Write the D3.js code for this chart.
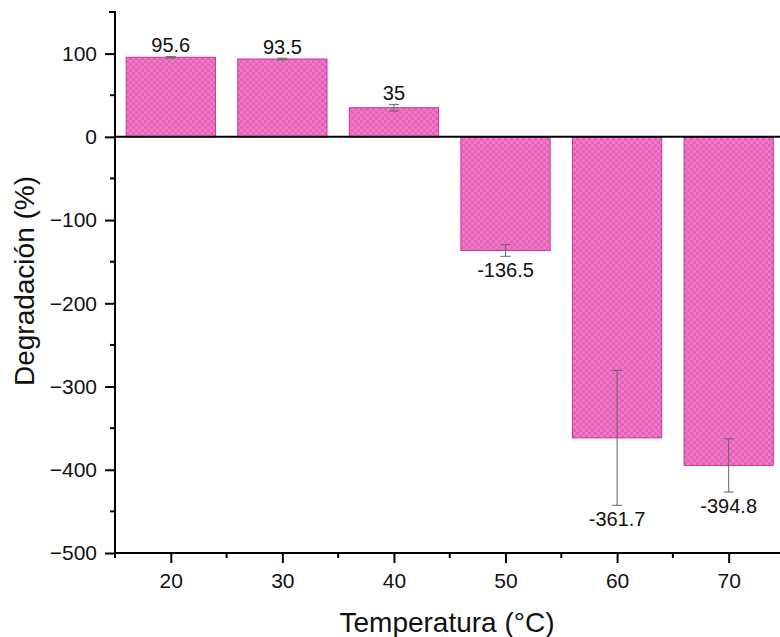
<!DOCTYPE html>
<html><head><meta charset="utf-8">
<script src="https://cdn.jsdelivr.net/npm/d3@7/dist/d3.min.js"></script>
<style>body{margin:0;background:#fff}svg{display:block}text{font-family:"Liberation Sans",Arial,sans-serif}</style>
</head><body><div id="c"></div>
<script>
const temps = [20, 30, 40, 50, 60, 70];
const values = [95.6, 93.5, 35, -136.5, -361.7, -394.8];
const errors = [1, 1, 4, 7, 81, 32];
const labels = ["95.6", "93.5", "35", "-136.5", "-361.7", "-394.8"];
const yTicks = [-500, -400, -300, -200, -100, 0, 100];
const xTicks = [20, 30, 40, 50, 60, 70];

const W = 780, H = 637;
const FONT = '"Liberation Sans",Arial,sans-serif';
const svg = d3.select("#c").append("svg").attr("width", W).attr("height", H);
const defs = svg.append("defs");
const pat = defs.append("pattern").attr("id", "chk").attr("patternUnits", "userSpaceOnUse")
  .attr("width", 6).attr("height", 6);
pat.append("rect").attr("width", 6).attr("height", 6).attr("fill", "#f07ac8");
pat.append("rect").attr("width", 3).attr("height", 3).attr("fill", "#e462b8");
pat.append("rect").attr("x", 3).attr("y", 3).attr("width", 3).attr("height", 3).attr("fill", "#e462b8");

const x = d3.scaleLinear().domain([15, 74.6]).range([115, 780]);
const y = d3.scaleLinear().domain([-500, 150]).range([553, 12]);
const bw = x(24) - x(16);

const g = svg.append("g");
g.selectAll("rect.bar").data(values).join("rect").attr("class", "bar")
  .attr("x", (d, i) => x(temps[i]) - bw / 2)
  .attr("y", d => Math.min(y(d), y(0)))
  .attr("width", bw)
  .attr("height", d => Math.abs(y(d) - y(0)))
  .attr("fill", "url(#chk)")
  .attr("stroke", "#c8349c").attr("stroke-width", 1);

// error bars
const eb = g.selectAll("g.err").data(values).join("g").attr("class", "err");
eb.append("line").attr("x1", (d, i) => x(temps[i])).attr("x2", (d, i) => x(temps[i]))
  .attr("y1", (d, i) => y(d + errors[i])).attr("y2", (d, i) => y(d - errors[i]))
  .attr("stroke", "#666").attr("stroke-width", 1);
[1, -1].forEach(s => {
  eb.append("line").attr("x1", (d, i) => x(temps[i]) - 5).attr("x2", (d, i) => x(temps[i]) + 5)
    .attr("y1", (d, i) => y(d + s * errors[i])).attr("y2", (d, i) => y(d + s * errors[i]))
    .attr("stroke", "#666").attr("stroke-width", 1);
});

// zero line
svg.append("line").attr("x1", x(15)).attr("x2", W).attr("y1", y(0)).attr("y2", y(0))
  .attr("stroke", "#000").attr("stroke-width", 2);

// axes
const yAxis = d3.axisLeft(y).tickValues(yTicks).tickSize(10).tickPadding(8).tickFormat(d => d < 0 ? "\u2212" + Math.abs(d) : d);
const ya = svg.append("g").attr("transform", `translate(${x(15)},0)`).call(yAxis);
ya.select(".domain").attr("stroke-width", 2).attr("d", `M-6,${y(150)}H0V${y(-500)}`);
ya.selectAll(".tick line").attr("stroke-width", 2);
ya.selectAll("text").attr("font-size", 21).attr("fill", "#111").attr("font-family", FONT);
const yMinor = d3.range(-450, 150, 100);
ya.selectAll("line.minor").data(yMinor).join("line").attr("class", "minor")
  .attr("x1", -5).attr("x2", 0).attr("y1", d => y(d)).attr("y2", d => y(d)).attr("stroke", "#000").attr("stroke-width", 2);

const xAxis = d3.axisBottom(x).tickValues(xTicks).tickSize(10).tickPadding(10);
const xa = svg.append("g").attr("transform", `translate(0,${y(-500)})`).call(xAxis);
xa.select(".domain").attr("stroke-width", 2).attr("d", `M${x(15)},0H${W}`);
xa.selectAll(".tick line").attr("stroke-width", 2);
xa.selectAll("text").attr("font-size", 21).attr("fill", "#111").attr("font-family", FONT);
const xMinor = [15, 25, 35, 45, 55, 65];
xa.selectAll("line.minor").data(xMinor).join("line").attr("class", "minor")
  .attr("x1", d => x(d)).attr("x2", d => x(d)).attr("y1", 0).attr("y2", 5).attr("stroke", "#000").attr("stroke-width", 2);

// value labels
svg.selectAll("text.lbl").data(values).join("text").attr("class", "lbl")
  .attr("x", (d, i) => x(temps[i]))
  .attr("y", (d, i) => d >= 0 ? y(d + errors[i]) - 4 : y(d - errors[i]) + 21)
  .attr("text-anchor", "middle").attr("font-size", 20).attr("fill", "#111")
  .text((d, i) => labels[i]);

// titles
svg.append("text").attr("x", 447).attr("y", 632).attr("text-anchor", "middle")
  .attr("font-size", 28).attr("fill", "#111").text("Temperatura (°C)");
svg.append("text").attr("transform", "translate(34,281) rotate(-90)").attr("text-anchor", "middle")
  .attr("font-size", 28).attr("fill", "#111").text("Degradación (%)");
</script></body></html>
